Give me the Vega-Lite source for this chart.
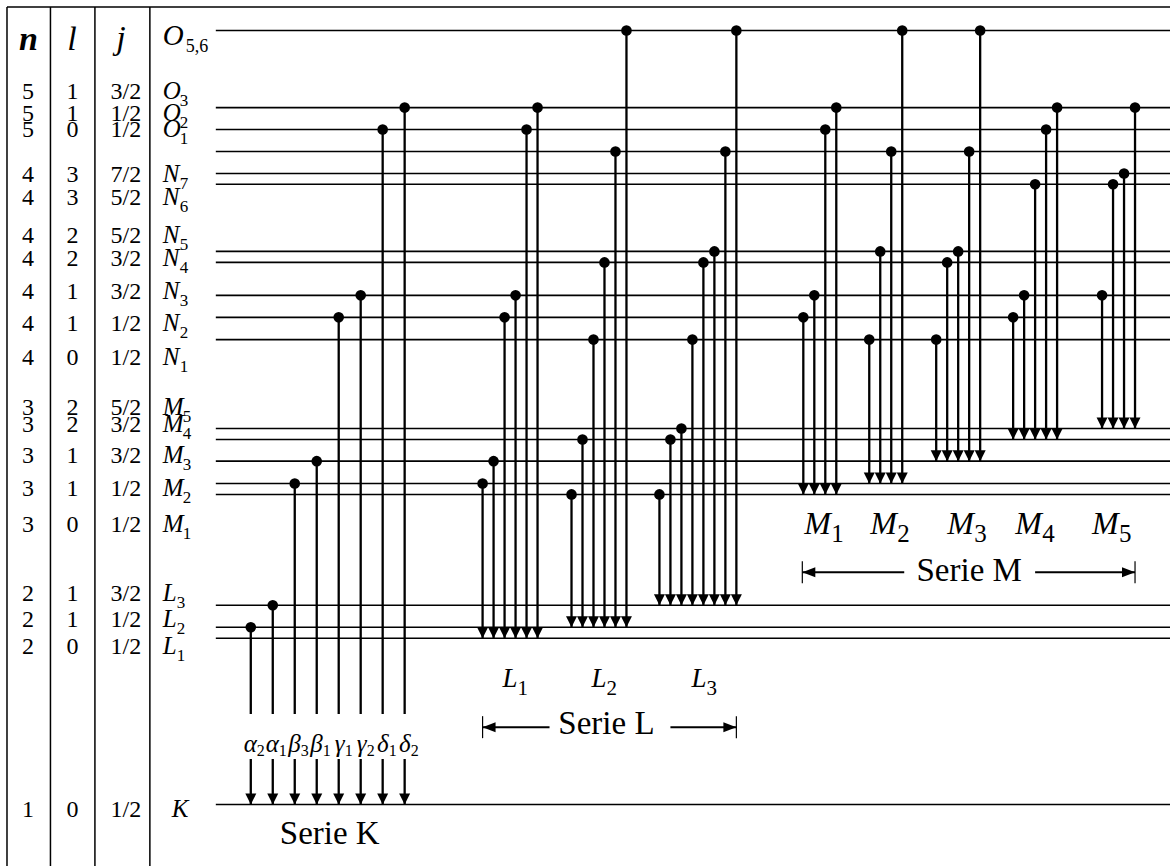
{
  "$schema": "https://vega.github.io/schema/vega-lite/v6.json",
  "width": 1171,
  "height": 867,
  "autosize": {"type": "fit", "contains": "padding"},
  "padding": 0,
  "background": "white",
  "config": {"view": {"stroke": null}, "font": "Times New Roman, Liberation Serif, serif", "text": {"font": "Times New Roman, Liberation Serif, serif", "fill": "black"}},
  "datasets": {
    "frame": [
      {"x1": 7, "x2": 1171, "y1": 7, "y2": 7},
      {"x1": 7, "x2": 7, "y1": 7, "y2": 867},
      {"x1": 50.5, "x2": 50.5, "y1": 7, "y2": 867},
      {"x1": 95, "x2": 95, "y1": 7, "y2": 867},
      {"x1": 150, "x2": 150, "y1": 7, "y2": 867}
    ],
    "levels": [
      {"level": "O56", "y": 30.5}, {"level": "O3", "y": 107.7}, {"level": "O2", "y": 129.7}, {"level": "O1", "y": 151.7},
      {"level": "N7", "y": 173.7}, {"level": "N6", "y": 184.5}, {"level": "N5", "y": 251.7}, {"level": "N4", "y": 262.7},
      {"level": "N3", "y": 295.7}, {"level": "N2", "y": 317.7}, {"level": "N1", "y": 340},
      {"level": "M5", "y": 429}, {"level": "M4", "y": 440}, {"level": "M3", "y": 461.7}, {"level": "M2", "y": 484}, {"level": "M1", "y": 495},
      {"level": "L3", "y": 606}, {"level": "L2", "y": 628}, {"level": "L1", "y": 639}, {"level": "K", "y": 805.5}
    ],
    "trans": [
      {"s": "K", "x": 251, "from": "L2", "to": "K", "g": "α", "gs": "2"},
      {"s": "K", "x": 273, "from": "L3", "to": "K", "g": "α", "gs": "1"},
      {"s": "K", "x": 295, "from": "M2", "to": "K", "g": "β", "gs": "3"},
      {"s": "K", "x": 317, "from": "M3", "to": "K", "g": "β", "gs": "1"},
      {"s": "K", "x": 339, "from": "N2", "to": "K", "g": "γ", "gs": "1"},
      {"s": "K", "x": 361, "from": "N3", "to": "K", "g": "γ", "gs": "2"},
      {"s": "K", "x": 383, "from": "O2", "to": "K", "g": "δ", "gs": "1"},
      {"s": "K", "x": 405, "from": "O3", "to": "K", "g": "δ", "gs": "2"},
      {"s": "L1", "x": 483, "from": "M2", "to": "L1"},
      {"s": "L1", "x": 494, "from": "M3", "to": "L1"},
      {"s": "L1", "x": 505, "from": "N2", "to": "L1"},
      {"s": "L1", "x": 516, "from": "N3", "to": "L1"},
      {"s": "L1", "x": 527, "from": "O2", "to": "L1"},
      {"s": "L1", "x": 538, "from": "O3", "to": "L1"},
      {"s": "L2", "x": 572, "from": "M1", "to": "L2"},
      {"s": "L2", "x": 583, "from": "M4", "to": "L2"},
      {"s": "L2", "x": 594, "from": "N1", "to": "L2"},
      {"s": "L2", "x": 605, "from": "N4", "to": "L2"},
      {"s": "L2", "x": 616, "from": "O1", "to": "L2"},
      {"s": "L2", "x": 627, "from": "O56", "to": "L2"},
      {"s": "L3", "x": 660, "from": "M1", "to": "L3"},
      {"s": "L3", "x": 671, "from": "M4", "to": "L3"},
      {"s": "L3", "x": 682, "from": "M5", "to": "L3"},
      {"s": "L3", "x": 693, "from": "N1", "to": "L3"},
      {"s": "L3", "x": 704, "from": "N4", "to": "L3"},
      {"s": "L3", "x": 715, "from": "N5", "to": "L3"},
      {"s": "L3", "x": 726, "from": "O1", "to": "L3"},
      {"s": "L3", "x": 737, "from": "O56", "to": "L3"},
      {"s": "M1", "x": 804, "from": "N2", "to": "M1"},
      {"s": "M1", "x": 815, "from": "N3", "to": "M1"},
      {"s": "M1", "x": 826, "from": "O2", "to": "M1"},
      {"s": "M1", "x": 837, "from": "O3", "to": "M1"},
      {"s": "M2", "x": 870, "from": "N1", "to": "M2"},
      {"s": "M2", "x": 881, "from": "N5", "to": "M2"},
      {"s": "M2", "x": 892, "from": "O1", "to": "M2"},
      {"s": "M2", "x": 903, "from": "O56", "to": "M2"},
      {"s": "M3", "x": 937, "from": "N1", "to": "M3"},
      {"s": "M3", "x": 948, "from": "N4", "to": "M3"},
      {"s": "M3", "x": 959, "from": "N5", "to": "M3"},
      {"s": "M3", "x": 970, "from": "O1", "to": "M3"},
      {"s": "M3", "x": 981, "from": "O56", "to": "M3"},
      {"s": "M4", "x": 1014, "from": "N2", "to": "M4"},
      {"s": "M4", "x": 1025, "from": "N3", "to": "M4"},
      {"s": "M4", "x": 1036, "from": "N6", "to": "M4"},
      {"s": "M4", "x": 1047, "from": "O2", "to": "M4"},
      {"s": "M4", "x": 1058, "from": "O3", "to": "M4"},
      {"s": "M5", "x": 1103, "from": "N3", "to": "M5"},
      {"s": "M5", "x": 1114, "from": "N6", "to": "M5"},
      {"s": "M5", "x": 1125, "from": "N7", "to": "M5"},
      {"s": "M5", "x": 1136, "from": "O3", "to": "M5"}
    ],
    "table": [
      {"n": "5", "l": "1", "j": "3/2", "main": "O", "sub": "3", "ty": 99},
      {"n": "5", "l": "1", "j": "1/2", "main": "O", "sub": "2", "ty": 121},
      {"n": "5", "l": "0", "j": "1/2", "main": "O", "sub": "1", "ty": 137},
      {"n": "4", "l": "3", "j": "7/2", "main": "N", "sub": "7", "ty": 182},
      {"n": "4", "l": "3", "j": "5/2", "main": "N", "sub": "6", "ty": 205},
      {"n": "4", "l": "2", "j": "5/2", "main": "N", "sub": "5", "ty": 243},
      {"n": "4", "l": "2", "j": "3/2", "main": "N", "sub": "4", "ty": 266},
      {"n": "4", "l": "1", "j": "3/2", "main": "N", "sub": "3", "ty": 299},
      {"n": "4", "l": "1", "j": "1/2", "main": "N", "sub": "2", "ty": 331},
      {"n": "4", "l": "0", "j": "1/2", "main": "N", "sub": "1", "ty": 365},
      {"n": "3", "l": "2", "j": "5/2", "main": "M", "sub": "5", "ty": 415},
      {"n": "3", "l": "2", "j": "3/2", "main": "M", "sub": "4", "ty": 432},
      {"n": "3", "l": "1", "j": "3/2", "main": "M", "sub": "3", "ty": 464},
      {"n": "3", "l": "1", "j": "1/2", "main": "M", "sub": "2", "ty": 497},
      {"n": "3", "l": "0", "j": "1/2", "main": "M", "sub": "1", "ty": 533},
      {"n": "2", "l": "1", "j": "3/2", "main": "L", "sub": "3", "ty": 602},
      {"n": "2", "l": "1", "j": "1/2", "main": "L", "sub": "2", "ty": 628},
      {"n": "2", "l": "0", "j": "1/2", "main": "L", "sub": "1", "ty": 655},
      {"n": "1", "l": "0", "j": "1/2", "main": "K", "sub": "", "ty": 818}
    ],
    "header": [
      {"t": "n", "x": 28.5, "y": 50},
      {"t": "l", "x": 72, "y": 50},
      {"t": "j", "x": 121, "y": 49}
    ],
    "glabels": [
      {"k": "L", "main": "L", "sub": "1", "x": 503, "y": 688},
      {"k": "L", "main": "L", "sub": "2", "x": 592, "y": 688},
      {"k": "L", "main": "L", "sub": "3", "x": 692, "y": 688},
      {"k": "M", "main": "M", "sub": "1", "x": 805, "y": 535},
      {"k": "M", "main": "M", "sub": "2", "x": 871, "y": 535},
      {"k": "M", "main": "M", "sub": "3", "x": 948, "y": 535},
      {"k": "M", "main": "M", "sub": "4", "x": 1016, "y": 535},
      {"k": "M", "main": "M", "sub": "5", "x": 1093, "y": 535}
    ],
    "titles": [
      {"t": "Serie K", "x": 330, "y": 845},
      {"t": "Serie L", "x": 607, "y": 735},
      {"t": "Serie M", "x": 970, "y": 582}
    ],
    "brackets": [
      {"b": "L", "x1": 483, "x2": 550, "x3": 671, "x4": 737, "y": 728},
      {"b": "M", "x1": 803, "x2": 905, "x3": 1036, "x4": 1136, "y": 573}
    ]
  },
  "layer": [
    {
      "data": {"name": "frame"},
      "mark": {"type": "rule", "color": "black", "strokeWidth": 1.5},
      "encoding": {
        "x": {"field": "x1", "type": "quantitative", "scale": {"domain": [0, 1171], "nice": false, "zero": false}, "axis": null},
        "x2": {"field": "x2"},
        "y": {"field": "y1", "type": "quantitative", "scale": {"domain": [0, 867], "nice": false, "zero": false, "reverse": true}, "axis": null},
        "y2": {"field": "y2"}
      }
    },
    {
      "data": {"name": "levels"},
      "mark": {"type": "rule", "color": "black", "strokeWidth": 1.6},
      "encoding": {
        "x": {"datum": 216, "type": "quantitative", "scale": {"domain": [0, 1171], "nice": false, "zero": false}, "axis": null},
        "x2": {"datum": 1171},
        "y": {"field": "y", "type": "quantitative", "scale": {"domain": [0, 867], "nice": false, "zero": false, "reverse": true}, "axis": null}
      }
    },
    {
      "data": {"name": "trans"},
      "transform": [
        {"lookup": "from", "from": {"data": {"name": "levels"}, "key": "level", "fields": ["y"]}, "as": ["yFrom"]},
        {"lookup": "to", "from": {"data": {"name": "levels"}, "key": "level", "fields": ["y"]}, "as": ["yTo"]}
      ],
      "layer": [
        {
          "transform": [{"filter": "datum.s !== 'K'"}],
          "mark": {"type": "rule", "color": "black", "strokeWidth": 2.3},
          "encoding": {
            "x": {"field": "x", "type": "quantitative", "scale": {"domain": [0, 1171], "nice": false, "zero": false}, "axis": null},
            "y": {"field": "yTo", "type": "quantitative", "scale": {"domain": [0, 867], "nice": false, "zero": false, "reverse": true}, "axis": null},
            "y2": {"field": "yFrom"}
          }
        },
        {
          "transform": [{"filter": "datum.s === 'K'"}],
          "mark": {"type": "rule", "color": "black", "strokeWidth": 2.3, "strokeDash": [45.5, 45, 2000]},
          "encoding": {
            "x": {"field": "x", "type": "quantitative", "scale": {"domain": [0, 1171], "nice": false, "zero": false}, "axis": null},
            "y": {"field": "yTo", "type": "quantitative", "scale": {"domain": [0, 867], "nice": false, "zero": false, "reverse": true}, "axis": null},
            "y2": {"field": "yFrom"}
          }
        },
        {
          "mark": {"type": "point", "shape": "circle", "filled": true, "color": "black", "opacity": 1, "size": 113},
          "encoding": {
            "x": {"field": "x", "type": "quantitative", "scale": {"domain": [0, 1171], "nice": false, "zero": false}, "axis": null},
            "y": {"field": "yFrom", "type": "quantitative", "scale": {"domain": [0, 867], "nice": false, "zero": false, "reverse": true}, "axis": null}
          }
        },
        {
          "mark": {"type": "point", "shape": "M-1,-2L1,-2L0,0Z", "filled": true, "color": "black", "opacity": 1, "size": 121, "strokeWidth": 0},
          "encoding": {
            "x": {"field": "x", "type": "quantitative", "scale": {"domain": [0, 1171], "nice": false, "zero": false}, "axis": null},
            "y": {"field": "yTo", "type": "quantitative", "scale": {"domain": [0, 867], "nice": false, "zero": false, "reverse": true}, "axis": null}
          }
        },
        {
          "transform": [{"filter": "datum.s === 'K'"}],
          "mark": {"type": "text", "font": "Times New Roman, Liberation Serif, serif", "fontSize": 25, "fontStyle": "italic", "align": "right", "baseline": "alphabetic", "dx": 6},
          "encoding": {
            "text": {"field": "g"},
            "x": {"field": "x", "type": "quantitative", "scale": {"domain": [0, 1171], "nice": false, "zero": false}, "axis": null},
            "y": {"datum": 753, "type": "quantitative", "scale": {"domain": [0, 867], "nice": false, "zero": false, "reverse": true}, "axis": null}
          }
        },
        {
          "transform": [{"filter": "datum.s === 'K'"}],
          "mark": {"type": "text", "font": "Times New Roman, Liberation Serif, serif", "fontSize": 16, "align": "left", "baseline": "alphabetic", "dx": 6, "dy": 4},
          "encoding": {
            "text": {"field": "gs"},
            "x": {"field": "x", "type": "quantitative", "scale": {"domain": [0, 1171], "nice": false, "zero": false}, "axis": null},
            "y": {"datum": 753, "type": "quantitative", "scale": {"domain": [0, 867], "nice": false, "zero": false, "reverse": true}, "axis": null}
          }
        }
      ]
    },
    {
      "data": {"name": "header"},
      "transform": [{"filter": "datum.t === 'n'"}],
      "mark": {"type": "text", "font": "Times New Roman, Liberation Serif, serif", "fontSize": 34, "fontStyle": "italic", "fontWeight": "bold", "align": "center", "baseline": "alphabetic"},
      "encoding": {
        "text": {"field": "t"},
        "x": {"field": "x", "type": "quantitative", "scale": {"domain": [0, 1171], "nice": false, "zero": false}, "axis": null},
        "y": {"field": "y", "type": "quantitative", "scale": {"domain": [0, 867], "nice": false, "zero": false, "reverse": true}, "axis": null}
      }
    },
    {
      "data": {"name": "header"},
      "transform": [{"filter": "datum.t !== 'n'"}],
      "mark": {"type": "text", "font": "Times New Roman, Liberation Serif, serif", "fontSize": 34, "fontStyle": "italic", "align": "center", "baseline": "alphabetic"},
      "encoding": {
        "text": {"field": "t"},
        "x": {"field": "x", "type": "quantitative", "scale": {"domain": [0, 1171], "nice": false, "zero": false}, "axis": null},
        "y": {"field": "y", "type": "quantitative", "scale": {"domain": [0, 867], "nice": false, "zero": false, "reverse": true}, "axis": null}
      }
    },
    {
      "data": {"values": [{"main": "O", "sub": "5,6", "y": 45}]},
      "layer": [
        {
          "mark": {"type": "text", "font": "Times New Roman, Liberation Serif, serif", "fontSize": 29, "fontStyle": "italic", "align": "left", "baseline": "alphabetic"},
          "encoding": {
            "text": {"field": "main"},
            "x": {"datum": 163, "type": "quantitative", "scale": {"domain": [0, 1171], "nice": false, "zero": false}, "axis": null},
            "y": {"field": "y", "type": "quantitative", "scale": {"domain": [0, 867], "nice": false, "zero": false, "reverse": true}, "axis": null}
          }
        },
        {
          "mark": {"type": "text", "font": "Times New Roman, Liberation Serif, serif", "fontSize": 18, "align": "left", "baseline": "alphabetic", "dx": 23, "dy": 7},
          "encoding": {
            "text": {"field": "sub"},
            "x": {"datum": 163, "type": "quantitative", "scale": {"domain": [0, 1171], "nice": false, "zero": false}, "axis": null},
            "y": {"field": "y", "type": "quantitative", "scale": {"domain": [0, 867], "nice": false, "zero": false, "reverse": true}, "axis": null}
          }
        }
      ]
    },
    {
      "data": {"name": "table"},
      "layer": [
        {
          "mark": {"type": "text", "font": "Times New Roman, Liberation Serif, serif", "fontSize": 24, "align": "center", "baseline": "alphabetic"},
          "encoding": {
            "text": {"field": "n"},
            "x": {"datum": 28, "type": "quantitative", "scale": {"domain": [0, 1171], "nice": false, "zero": false}, "axis": null},
            "y": {"field": "ty", "type": "quantitative", "scale": {"domain": [0, 867], "nice": false, "zero": false, "reverse": true}, "axis": null}
          }
        },
        {
          "mark": {"type": "text", "font": "Times New Roman, Liberation Serif, serif", "fontSize": 24, "align": "center", "baseline": "alphabetic"},
          "encoding": {
            "text": {"field": "l"},
            "x": {"datum": 72.5, "type": "quantitative", "scale": {"domain": [0, 1171], "nice": false, "zero": false}, "axis": null},
            "y": {"field": "ty", "type": "quantitative", "scale": {"domain": [0, 867], "nice": false, "zero": false, "reverse": true}, "axis": null}
          }
        },
        {
          "mark": {"type": "text", "font": "Times New Roman, Liberation Serif, serif", "fontSize": 24, "align": "center", "baseline": "alphabetic"},
          "encoding": {
            "text": {"field": "j"},
            "x": {"datum": 126, "type": "quantitative", "scale": {"domain": [0, 1171], "nice": false, "zero": false}, "axis": null},
            "y": {"field": "ty", "type": "quantitative", "scale": {"domain": [0, 867], "nice": false, "zero": false, "reverse": true}, "axis": null}
          }
        },
        {
          "transform": [{"filter": "datum.main !== 'K'"}],
          "mark": {"type": "text", "font": "Times New Roman, Liberation Serif, serif", "fontSize": 25, "fontStyle": "italic", "align": "left", "baseline": "alphabetic"},
          "encoding": {
            "text": {"field": "main"},
            "x": {"datum": 163, "type": "quantitative", "scale": {"domain": [0, 1171], "nice": false, "zero": false}, "axis": null},
            "y": {"field": "ty", "type": "quantitative", "scale": {"domain": [0, 867], "nice": false, "zero": false, "reverse": true}, "axis": null}
          }
        },
        {
          "transform": [{"filter": "datum.main === 'K'"}],
          "mark": {"type": "text", "font": "Times New Roman, Liberation Serif, serif", "fontSize": 25, "fontStyle": "italic", "align": "left", "baseline": "alphabetic"},
          "encoding": {
            "text": {"field": "main"},
            "x": {"datum": 172, "type": "quantitative", "scale": {"domain": [0, 1171], "nice": false, "zero": false}, "axis": null},
            "y": {"field": "ty", "type": "quantitative", "scale": {"domain": [0, 867], "nice": false, "zero": false, "reverse": true}, "axis": null}
          }
        },
        {
          "transform": [{"filter": "datum.main === 'O'"}],
          "mark": {"type": "text", "font": "Times New Roman, Liberation Serif, serif", "fontSize": 17, "align": "left", "baseline": "alphabetic", "dx": 17, "dy": 7},
          "encoding": {
            "text": {"field": "sub"},
            "x": {"datum": 163, "type": "quantitative", "scale": {"domain": [0, 1171], "nice": false, "zero": false}, "axis": null},
            "y": {"field": "ty", "type": "quantitative", "scale": {"domain": [0, 867], "nice": false, "zero": false, "reverse": true}, "axis": null}
          }
        },
        {
          "transform": [{"filter": "datum.main === 'N'"}],
          "mark": {"type": "text", "font": "Times New Roman, Liberation Serif, serif", "fontSize": 17, "align": "left", "baseline": "alphabetic", "dx": 17, "dy": 7},
          "encoding": {
            "text": {"field": "sub"},
            "x": {"datum": 163, "type": "quantitative", "scale": {"domain": [0, 1171], "nice": false, "zero": false}, "axis": null},
            "y": {"field": "ty", "type": "quantitative", "scale": {"domain": [0, 867], "nice": false, "zero": false, "reverse": true}, "axis": null}
          }
        },
        {
          "transform": [{"filter": "datum.main === 'M'"}],
          "mark": {"type": "text", "font": "Times New Roman, Liberation Serif, serif", "fontSize": 17, "align": "left", "baseline": "alphabetic", "dx": 20, "dy": 7},
          "encoding": {
            "text": {"field": "sub"},
            "x": {"datum": 163, "type": "quantitative", "scale": {"domain": [0, 1171], "nice": false, "zero": false}, "axis": null},
            "y": {"field": "ty", "type": "quantitative", "scale": {"domain": [0, 867], "nice": false, "zero": false, "reverse": true}, "axis": null}
          }
        },
        {
          "transform": [{"filter": "datum.main === 'L'"}],
          "mark": {"type": "text", "font": "Times New Roman, Liberation Serif, serif", "fontSize": 17, "align": "left", "baseline": "alphabetic", "dx": 14, "dy": 7},
          "encoding": {
            "text": {"field": "sub"},
            "x": {"datum": 163, "type": "quantitative", "scale": {"domain": [0, 1171], "nice": false, "zero": false}, "axis": null},
            "y": {"field": "ty", "type": "quantitative", "scale": {"domain": [0, 867], "nice": false, "zero": false, "reverse": true}, "axis": null}
          }
        }
      ]
    },
    {
      "data": {"name": "glabels"},
      "layer": [
        {
          "transform": [{"filter": "datum.k === 'L'"}],
          "mark": {"type": "text", "font": "Times New Roman, Liberation Serif, serif", "fontSize": 27, "fontStyle": "italic", "align": "left", "baseline": "alphabetic"},
          "encoding": {
            "text": {"field": "main"},
            "x": {"field": "x", "type": "quantitative", "scale": {"domain": [0, 1171], "nice": false, "zero": false}, "axis": null},
            "y": {"field": "y", "type": "quantitative", "scale": {"domain": [0, 867], "nice": false, "zero": false, "reverse": true}, "axis": null}
          }
        },
        {
          "transform": [{"filter": "datum.k === 'L'"}],
          "mark": {"type": "text", "font": "Times New Roman, Liberation Serif, serif", "fontSize": 21, "align": "left", "baseline": "alphabetic", "dx": 15, "dy": 8},
          "encoding": {
            "text": {"field": "sub"},
            "x": {"field": "x", "type": "quantitative", "scale": {"domain": [0, 1171], "nice": false, "zero": false}, "axis": null},
            "y": {"field": "y", "type": "quantitative", "scale": {"domain": [0, 867], "nice": false, "zero": false, "reverse": true}, "axis": null}
          }
        },
        {
          "transform": [{"filter": "datum.k === 'M'"}],
          "mark": {"type": "text", "font": "Times New Roman, Liberation Serif, serif", "fontSize": 32, "fontStyle": "italic", "align": "left", "baseline": "alphabetic"},
          "encoding": {
            "text": {"field": "main"},
            "x": {"field": "x", "type": "quantitative", "scale": {"domain": [0, 1171], "nice": false, "zero": false}, "axis": null},
            "y": {"field": "y", "type": "quantitative", "scale": {"domain": [0, 867], "nice": false, "zero": false, "reverse": true}, "axis": null}
          }
        },
        {
          "transform": [{"filter": "datum.k === 'M'"}],
          "mark": {"type": "text", "font": "Times New Roman, Liberation Serif, serif", "fontSize": 25, "align": "left", "baseline": "alphabetic", "dx": 27, "dy": 8},
          "encoding": {
            "text": {"field": "sub"},
            "x": {"field": "x", "type": "quantitative", "scale": {"domain": [0, 1171], "nice": false, "zero": false}, "axis": null},
            "y": {"field": "y", "type": "quantitative", "scale": {"domain": [0, 867], "nice": false, "zero": false, "reverse": true}, "axis": null}
          }
        }
      ]
    },
    {
      "data": {"name": "titles"},
      "mark": {"type": "text", "font": "Times New Roman, Liberation Serif, serif", "fontSize": 33, "align": "center", "baseline": "alphabetic"},
      "encoding": {
        "text": {"field": "t"},
        "x": {"field": "x", "type": "quantitative", "scale": {"domain": [0, 1171], "nice": false, "zero": false}, "axis": null},
        "y": {"field": "y", "type": "quantitative", "scale": {"domain": [0, 867], "nice": false, "zero": false, "reverse": true}, "axis": null}
      }
    },
    {
      "data": {"name": "brackets"},
      "layer": [
        {
          "mark": {"type": "rule", "color": "black", "strokeWidth": 2},
          "encoding": {
            "x": {"field": "x1", "type": "quantitative", "scale": {"domain": [0, 1171], "nice": false, "zero": false}, "axis": null},
            "x2": {"field": "x2"},
            "y": {"field": "y", "type": "quantitative", "scale": {"domain": [0, 867], "nice": false, "zero": false, "reverse": true}, "axis": null}
          }
        },
        {
          "mark": {"type": "rule", "color": "black", "strokeWidth": 2},
          "encoding": {
            "x": {"field": "x3", "type": "quantitative", "scale": {"domain": [0, 1171], "nice": false, "zero": false}, "axis": null},
            "x2": {"field": "x4"},
            "y": {"field": "y", "type": "quantitative", "scale": {"domain": [0, 867], "nice": false, "zero": false, "reverse": true}, "axis": null}
          }
        },
        {
          "mark": {"type": "point", "shape": "M0,0L2.6,-1L2.6,1Z", "filled": true, "color": "black", "opacity": 1, "size": 100, "strokeWidth": 0},
          "encoding": {
            "x": {"field": "x1", "type": "quantitative", "scale": {"domain": [0, 1171], "nice": false, "zero": false}, "axis": null},
            "y": {"field": "y", "type": "quantitative", "scale": {"domain": [0, 867], "nice": false, "zero": false, "reverse": true}, "axis": null}
          }
        },
        {
          "mark": {"type": "point", "shape": "M0,0L-2.6,-1L-2.6,1Z", "filled": true, "color": "black", "opacity": 1, "size": 100, "strokeWidth": 0},
          "encoding": {
            "x": {"field": "x4", "type": "quantitative", "scale": {"domain": [0, 1171], "nice": false, "zero": false}, "axis": null},
            "y": {"field": "y", "type": "quantitative", "scale": {"domain": [0, 867], "nice": false, "zero": false, "reverse": true}, "axis": null}
          }
        },
        {
          "mark": {"type": "point", "shape": "M0,-1L0,1", "filled": false, "color": "black", "opacity": 1, "size": 484, "strokeWidth": 1.2},
          "encoding": {
            "x": {"field": "x1", "type": "quantitative", "scale": {"domain": [0, 1171], "nice": false, "zero": false}, "axis": null},
            "y": {"field": "y", "type": "quantitative", "scale": {"domain": [0, 867], "nice": false, "zero": false, "reverse": true}, "axis": null}
          }
        },
        {
          "mark": {"type": "point", "shape": "M0,-1L0,1", "filled": false, "color": "black", "opacity": 1, "size": 484, "strokeWidth": 1.2},
          "encoding": {
            "x": {"field": "x4", "type": "quantitative", "scale": {"domain": [0, 1171], "nice": false, "zero": false}, "axis": null},
            "y": {"field": "y", "type": "quantitative", "scale": {"domain": [0, 867], "nice": false, "zero": false, "reverse": true}, "axis": null}
          }
        }
      ]
    }
  ]
}
